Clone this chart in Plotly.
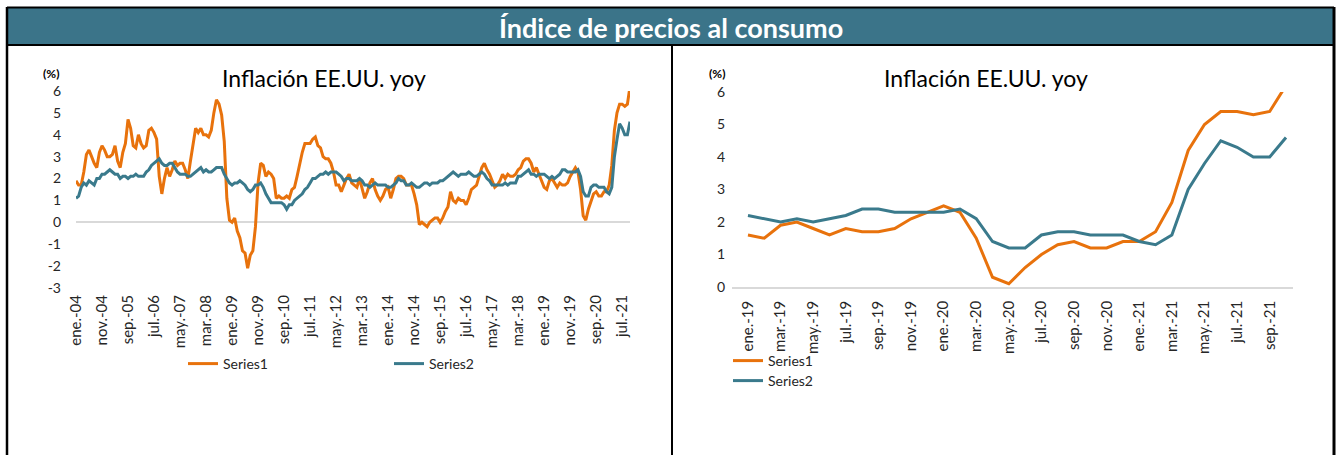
import plotly.graph_objects as go

# ---------------- data ----------------
month_abbr = ["ene", "feb", "mar", "abr", "may", "jun", "jul", "ago", "sep", "oct", "nov", "dic"]

# Left chart: ene-04 .. oct-21 (monthly, % yoy)
series1_long = [
    1.9, 1.7, 1.7, 2.3, 3.1, 3.3, 3.0, 2.7, 2.5, 3.2, 3.5, 3.3,   # 2004
    3.0, 3.0, 3.1, 3.5, 2.8, 2.5, 3.2, 3.6, 4.7, 4.3, 3.5, 3.4,   # 2005
    4.0, 3.6, 3.4, 3.5, 4.2, 4.3, 4.1, 3.8, 2.1, 1.3, 2.0, 2.5,   # 2006
    2.1, 2.4, 2.8, 2.6, 2.7, 2.7, 2.4, 2.0, 2.8, 3.5, 4.3, 4.1,   # 2007
    4.3, 4.0, 4.0, 3.9, 4.2, 5.0, 5.6, 5.4, 4.9, 3.7, 1.1, 0.1,   # 2008
    0.0, 0.2, -0.4, -0.7, -1.3, -1.4, -2.1, -1.5, -1.3, -0.2, 1.8, 2.7,  # 2009
    2.6, 2.1, 2.3, 2.2, 2.0, 1.1, 1.2, 1.1, 1.1, 1.2, 1.1, 1.5,   # 2010
    1.6, 2.1, 2.7, 3.2, 3.6, 3.6, 3.6, 3.8, 3.9, 3.5, 3.4, 3.0,   # 2011
    2.9, 2.9, 2.7, 2.3, 1.7, 1.7, 1.4, 1.7, 2.0, 2.2, 1.8, 1.7,   # 2012
    1.6, 2.0, 1.5, 1.1, 1.4, 1.8, 2.0, 1.5, 1.2, 1.0, 1.2, 1.5,   # 2013
    1.6, 1.1, 1.5, 2.0, 2.1, 2.1, 2.0, 1.7, 1.7, 1.7, 1.3, 0.8,   # 2014
    -0.1, 0.0, -0.1, -0.2, 0.0, 0.1, 0.2, 0.2, 0.0, 0.2, 0.5, 0.7,  # 2015
    1.4, 1.0, 0.9, 1.1, 1.0, 1.0, 0.8, 1.1, 1.5, 1.6, 1.7, 2.1,   # 2016
    2.5, 2.7, 2.4, 2.2, 1.9, 1.6, 1.7, 1.9, 2.2, 2.0, 2.2, 2.1,   # 2017
    2.1, 2.2, 2.4, 2.5, 2.8, 2.9, 2.9, 2.7, 2.3, 2.5, 2.2, 1.9,   # 2018
    1.6, 1.5, 1.9, 2.0, 1.8, 1.6, 1.8, 1.7, 1.7, 1.8, 2.1, 2.3,   # 2019
    2.5, 2.3, 1.5, 0.3, 0.1, 0.6, 1.0, 1.3, 1.4, 1.2, 1.2, 1.4,   # 2020
    1.4, 1.7, 2.6, 4.2, 5.0, 5.4, 5.4, 5.3, 5.4, 6.2,             # 2021
]
series2_long = [
    1.1, 1.2, 1.6, 1.8, 1.7, 1.9, 1.8, 1.7, 2.0, 2.0, 2.2, 2.2,   # 2004
    2.3, 2.4, 2.3, 2.2, 2.2, 2.0, 2.1, 2.1, 2.0, 2.1, 2.1, 2.2,   # 2005
    2.1, 2.1, 2.1, 2.3, 2.4, 2.6, 2.7, 2.8, 2.9, 2.7, 2.6, 2.6,   # 2006
    2.7, 2.7, 2.5, 2.3, 2.2, 2.2, 2.2, 2.1, 2.1, 2.2, 2.3, 2.4,   # 2007
    2.5, 2.3, 2.4, 2.3, 2.3, 2.4, 2.5, 2.5, 2.5, 2.2, 2.0, 1.8,   # 2008
    1.7, 1.8, 1.8, 1.9, 1.8, 1.7, 1.5, 1.4, 1.5, 1.7, 1.7, 1.8,   # 2009
    1.6, 1.3, 1.1, 0.9, 0.9, 0.9, 0.9, 0.9, 0.8, 0.6, 0.8, 0.8,   # 2010
    1.0, 1.1, 1.2, 1.3, 1.5, 1.6, 1.8, 2.0, 2.0, 2.1, 2.2, 2.2,   # 2011
    2.3, 2.2, 2.3, 2.3, 2.3, 2.2, 2.1, 1.9, 2.0, 2.0, 1.9, 1.9,   # 2012
    1.9, 2.0, 1.9, 1.7, 1.7, 1.6, 1.7, 1.8, 1.7, 1.7, 1.7, 1.7,   # 2013
    1.6, 1.6, 1.7, 1.8, 2.0, 1.9, 1.9, 1.7, 1.7, 1.8, 1.7, 1.6,   # 2014
    1.6, 1.7, 1.8, 1.8, 1.7, 1.8, 1.8, 1.8, 1.9, 1.9, 2.0, 2.1,   # 2015
    2.2, 2.3, 2.2, 2.1, 2.2, 2.2, 2.2, 2.3, 2.2, 2.1, 2.1, 2.2,   # 2016
    2.3, 2.2, 2.0, 1.9, 1.7, 1.7, 1.7, 1.7, 1.7, 1.8, 1.7, 1.8,   # 2017
    1.8, 1.8, 2.1, 2.1, 2.2, 2.3, 2.4, 2.2, 2.2, 2.1, 2.2, 2.2,   # 2018
    2.2, 2.1, 2.0, 2.1, 2.0, 2.1, 2.2, 2.4, 2.4, 2.3, 2.3, 2.3,   # 2019
    2.3, 2.4, 2.1, 1.4, 1.2, 1.2, 1.6, 1.7, 1.7, 1.6, 1.6, 1.6,   # 2020
    1.4, 1.3, 1.6, 3.0, 3.8, 4.5, 4.3, 4.0, 4.0, 4.6,             # 2021
]

# Right chart: ene-19 .. oct-21
series1_short = [1.6, 1.5, 1.9, 2.0, 1.8, 1.6, 1.8, 1.7, 1.7, 1.8, 2.1, 2.3,
                 2.5, 2.3, 1.5, 0.3, 0.1, 0.6, 1.0, 1.3, 1.4, 1.2, 1.2, 1.4,
                 1.4, 1.7, 2.6, 4.2, 5.0, 5.4, 5.4, 5.3, 5.4, 6.2]
series2_short = [2.2, 2.1, 2.0, 2.1, 2.0, 2.1, 2.2, 2.4, 2.4, 2.3, 2.3, 2.3,
                 2.3, 2.4, 2.1, 1.4, 1.2, 1.2, 1.6, 1.7, 1.7, 1.6, 1.6, 1.6,
                 1.4, 1.3, 1.6, 3.0, 3.8, 4.5, 4.3, 4.0, 4.0, 4.6]

months_long = [f"{month_abbr[i % 12]}.-{(4 + i // 12):02d}" for i in range(len(series1_long))]
months_short = [f"{month_abbr[i % 12]}.-{(19 + i // 12):02d}" for i in range(len(series1_short))]

left_ticks = ["ene.-04", "nov.-04", "sep.-05", "jul.-06", "may.-07", "mar.-08", "ene.-09",
              "nov.-09", "sep.-10", "jul.-11", "may.-12", "mar.-13", "ene.-14", "nov.-14",
              "sep.-15", "jul.-16", "may.-17", "mar.-18", "ene.-19", "nov.-19", "sep.-20", "jul.-21"]
right_ticks = ["ene.-19", "mar.-19", "may.-19", "jul.-19", "sep.-19", "nov.-19", "ene.-20",
               "mar.-20", "may.-20", "jul.-20", "sep.-20", "nov.-20", "ene.-21", "mar.-21",
               "may.-21", "jul.-21", "sep.-21"]
left_yticks = [-3, -2, -1, 0, 1, 2, 3, 4, 5, 6]
right_yticks = [0, 1, 2, 3, 4, 5, 6]

header_title = "Índice de precios al consumo"
chart_title = "Inflación EE.UU. yoy"
names = ["Series1", "Series2"]

# ---------------- style ----------------
W, H = 1338, 455
ORANGE = "#E8720C"
TEAL = "#3A7A8C"
HEADER = "#3B7489"
TXT = "#262626"
FONT = "Lato"

def px(x):
    return x / W

def py(y):
    return 1 - y / H

fig = go.Figure()

fig.add_trace(go.Scatter(x=months_long, y=series1_long, name=names[0], mode="lines",
                         line=dict(color=ORANGE, width=3), xaxis="x", yaxis="y", legend="legend"))
fig.add_trace(go.Scatter(x=months_long, y=series2_long, name=names[1], mode="lines",
                         line=dict(color=TEAL, width=3), xaxis="x", yaxis="y", legend="legend2"))
fig.add_trace(go.Scatter(x=months_short, y=series1_short, name=names[0], mode="lines",
                         line=dict(color=ORANGE, width=3), xaxis="x2", yaxis="y2", legend="legend3"))
fig.add_trace(go.Scatter(x=months_short, y=series2_short, name=names[1], mode="lines",
                         line=dict(color=TEAL, width=3), xaxis="x2", yaxis="y2", legend="legend4"))

n_long = len(series1_long)
ytickfont = dict(family=FONT, size=14, color=TXT)
xtickfont = dict(family=FONT, size=15, color=TXT)

leg_common = dict(font=dict(family=FONT, size=14, color=TXT), bgcolor="rgba(0,0,0,0)",
                  xanchor="left", yanchor="middle", itemwidth=30)

fig.update_layout(
    template="none",
    width=W, height=H,
    margin=dict(l=0, r=0, t=0, b=0, pad=0, autoexpand=False),
    paper_bgcolor="white", plot_bgcolor="white",
    font=dict(family=FONT, color=TXT),
    hovermode=False,
    xaxis=dict(domain=[px(76), px(630)], type="category", categoryorder="array",
               categoryarray=months_long, range=[0, n_long - 1], automargin=False,
               tickvals=left_ticks, ticktext=left_ticks, tickangle=-90,
               showgrid=False, zeroline=False, showline=False, ticks="",
               tickfont=xtickfont, anchor="y", ticklabelstandoff=3),
    yaxis=dict(domain=[py(288), py(91)], range=[-3, 6], tickvals=left_yticks, automargin=False,
               ticktext=[str(v) for v in left_yticks],
               showgrid=False, zeroline=True, zerolinecolor="#D9D9D9", zerolinewidth=1.5,
               showline=False, ticks="", tickfont=ytickfont, anchor="x", ticklabelstandoff=14),
    xaxis2=dict(domain=[px(732), px(1293)], type="category", categoryorder="array",
                categoryarray=months_short, range=[-0.98, len(series1_short) - 1 + 0.43],
                automargin=False,
                tickvals=right_ticks, ticktext=right_ticks, tickangle=-90,
                showgrid=False, zeroline=False, showline=True, linecolor="#D9D9D9", linewidth=1.5,
                ticks="", tickfont=xtickfont, anchor="y2", ticklabelstandoff=6),
    yaxis2=dict(domain=[py(287), py(92)], range=[0, 6], tickvals=right_yticks, automargin=False,
                ticktext=[str(v) for v in right_yticks],
                showgrid=False, zeroline=False, showline=False, ticks="",
                tickfont=ytickfont, anchor="x2", ticklabelstandoff=6),
    legend=dict(x=px(183), y=py(364), **leg_common),
    legend2=dict(x=px(389), y=py(364), **leg_common),
    legend3=dict(x=px(728), y=py(361), **leg_common),
    legend4=dict(x=px(728), y=py(381), **leg_common),
    showlegend=True,
)

shapes = [
    # header band
    dict(type="rect", xref="paper", yref="paper", x0=px(7), x1=px(1334), y0=py(45), y1=py(7),
         fillcolor=HEADER, line=dict(width=0), layer="below"),
    # outer border
    dict(type="line", xref="paper", yref="paper", x0=px(7), x1=px(1334), y0=py(7.5), y1=py(7.5),
         line=dict(color="black", width=2)),
    dict(type="line", xref="paper", yref="paper", x0=px(7), x1=px(7), y0=py(7), y1=py(460),
         line=dict(color="black", width=2.5)),
    dict(type="line", xref="paper", yref="paper", x0=px(1334), x1=px(1334), y0=py(7), y1=py(460),
         line=dict(color="black", width=3)),
    # line under header
    dict(type="line", xref="paper", yref="paper", x0=px(7), x1=px(1334), y0=py(45), y1=py(45),
         line=dict(color="black", width=2)),
    # divider between panels
    dict(type="line", xref="paper", yref="paper", x0=px(672), x1=px(672), y0=py(45), y1=py(460),
         line=dict(color="black", width=2)),
]
fig.update_layout(shapes=shapes)

annotations = [
    dict(text=f"<b>{header_title}</b>", x=px(671), y=py(27), xref="paper", yref="paper",
         showarrow=False, xanchor="center", yanchor="middle",
         font=dict(family=FONT, size=27, color="white")),
    dict(text=chart_title, x=px(324), y=py(78), xref="paper", yref="paper",
         showarrow=False, xanchor="center", yanchor="middle",
         font=dict(family=FONT, size=23, color="black")),
    dict(text=chart_title, x=px(986), y=py(78), xref="paper", yref="paper",
         showarrow=False, xanchor="center", yanchor="middle",
         font=dict(family=FONT, size=23, color="black")),
    dict(text="<b>(%)</b>", x=px(51), y=py(74), xref="paper", yref="paper",
         showarrow=False, xanchor="center", yanchor="middle",
         font=dict(family=FONT, size=12, color="black")),
    dict(text="<b>(%)</b>", x=px(717), y=py(74), xref="paper", yref="paper",
         showarrow=False, xanchor="center", yanchor="middle",
         font=dict(family=FONT, size=12, color="black")),
]
fig.update_layout(annotations=annotations)

fig.write_html("out.html", config={"displayModeBar": False},
               post_script="document.body.style.margin='0';")
